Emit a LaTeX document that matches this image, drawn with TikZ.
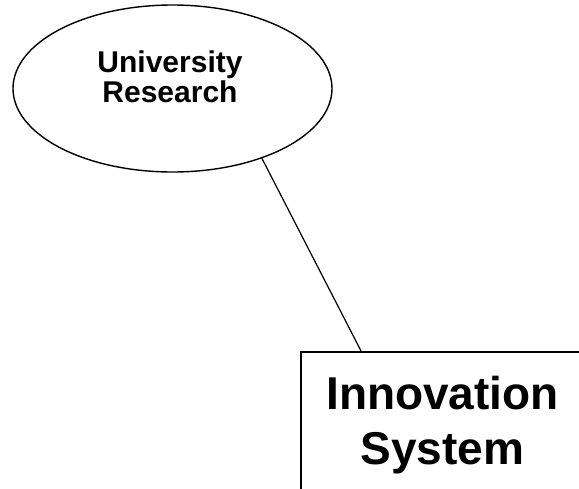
\documentclass[tikz,border=0pt]{standalone}
\usepackage{fontspec}
\setmainfont{Liberation Sans}
\usetikzlibrary{shapes.geometric}

\begin{document}
\begin{tikzpicture}[x=1pt, y=-1pt,
		blob/.style={draw, ellipse, line width=1.4pt, minimum width=319pt, minimum height=167pt, inner sep=0pt},
		sysbox/.style={draw, rectangle, line width=1.8pt, minimum width=283pt, minimum height=146pt, inner sep=0pt,
			align=center, font=\bfseries\fontsize{46}{55}\selectfont},
		blobtext/.style={align=center, inner sep=0pt, font=\bfseries\fontsize{30}{30.5}\selectfont},
		link/.style={line width=1.2pt}]
			%%%%% START %%%%%
			
			\useasboundingbox (0, 0) rectangle (579, 488);
			
			\node[blob] (research) at (172.5, 88.5) {};
			\node[blobtext] (researchtext) at (170, 77) {University\\Research};
			
			\node[sysbox] (innovation) at (442.5, 425) {Innovation\\System};
			
			\draw[link] (research.-38.5) -- ([xshift=61pt]innovation.north west);
			
			%%%%% END %%%%%
		\end{tikzpicture}
\end{document}
